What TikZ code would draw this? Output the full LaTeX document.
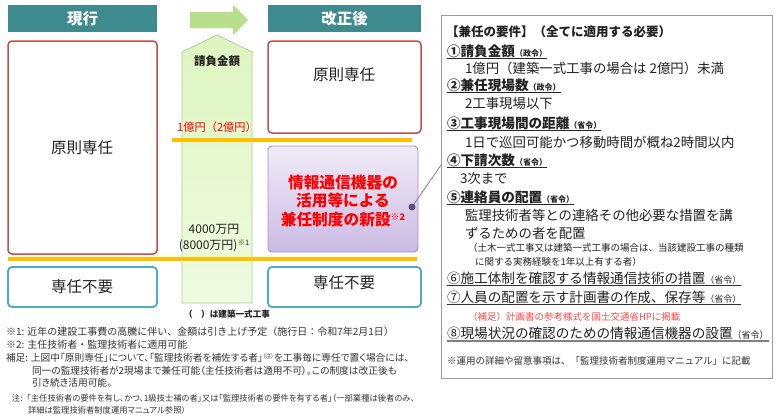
\documentclass[tikz,border=0pt]{standalone}
\usepackage{fontspec}
\setmainfont{Noto Sans CJK JP}
\newfontfamily\jpp{Noto Sans CJK JP}[RawFeature=+palt]
\newcommand{\fs}[2]{\fontsize{#1}{#2}\selectfont}
\definecolor{tealh}{HTML}{3D8A8F}
\definecolor{redb}{HTML}{C0504D}
\definecolor{blueb}{HTML}{4BACC6}
\definecolor{orng}{HTML}{FFC000}
\definecolor{arrg}{HTML}{B7DE8B}
\definecolor{colt}{HTML}{DDF5C0}
\definecolor{colb}{HTML}{EFFBE0}
\definecolor{colbd}{HTML}{A9D18E}
\definecolor{purt}{HTML}{F0EBF8}
\definecolor{purb}{HTML}{CBBBE4}
\definecolor{purbd}{HTML}{A390CB}
\definecolor{reqbd}{HTML}{9E93B8}
\definecolor{dotc}{HTML}{5B4B80}
\definecolor{connc}{HTML}{8A7AAE}
\definecolor{txt}{HTML}{222222}
\definecolor{notec}{HTML}{333333}
\definecolor{redt}{HTML}{FF0000}
\definecolor{redn}{HTML}{FF4848}
\begin{document}
\begin{tikzpicture}[x=1pt,y=-1pt]
\tikzset{
 every node/.style={inner sep=0pt,outer sep=0pt,text=txt},
 hdr/.style={fill=tealh,text=white,font=\fs{15.5}{18}\bfseries,minimum height=27pt,anchor=north west},
 redbox/.style={draw=redb,line width=1.5pt,rounded corners=4pt,fill=white,anchor=north west},
 bluebox/.style={draw=blueb,line width=1.8pt,rounded corners=4pt,fill=white,anchor=north west},
 bigtxt/.style={font=\fs{15.5}{18}},
 midtxt/.style={font=\fs{12}{14}},
 ln/.style={anchor=base west},
 hd/.style={anchor=base west,font=\fs{13.6}{16}\bfseries},
 hdb/.style={anchor=base west,font=\fs{13.6}{16}},
 bd/.style={anchor=base west,font=\fs{13.4}{16}},
 sm/.style={anchor=base west,font=\fs{9.5}{11}},
 note/.style={anchor=base west,font=\fs{10}{11},text=notec},
 notep/.style={anchor=base west,font=\jpp\fs{9.7}{11},text=notec},
 notesm/.style={anchor=base west,font=\fs{8.3}{9},text=notec},
 ulthin/.style={line width=0.8pt,draw=black!85},
 ulmid/.style={line width=1.4pt,draw=black!80},
 ulthick/.style={line width=2.5pt,draw=black!50},
 orline/.style={draw=orng,line width=4.5pt},
}
\useasboundingbox (0,0) rectangle (778,415);

% headers and arrow
\node[hdr,minimum width=149pt] (hcur) at (8,5) {現行};
\node[hdr,minimum width=153pt] (hnew) at (268,5) {改正後};
\fill[arrg] (190,12) -- (233,12) -- (233,5) -- (248,20) -- (233,35) -- (233,28) -- (190,28) -- cycle;

% central column
\shade[top color=colt,bottom color=colb] (182,303) -- (182,52) -- (217,35) -- (252,52) -- (252,303) -- cycle;
\draw[colbd,line width=0.8pt] (182,303) -- (182,52) -- (217,35) -- (252,52) -- (252,303) -- cycle;
\node[font=\fs{11.5}{14}\bfseries] (ukeoi) at (217,61) {請負金額};

% left column boxes
\node[redbox,minimum width=149pt,minimum height=213pt] (lprin) at (8,41) {};
\node[bigtxt] (lprint) at (82,148) {原則専任};
\node[bluebox,minimum width=149pt,minimum height=40pt] (lfree) at (8,267) {};
\node[bigtxt] (lfreet) at (82,287) {専任不要};

% right column boxes
\node[redbox,minimum width=153pt,minimum height=92pt] (rprin) at (268,41) {};
\node[bigtxt] (rprint) at (344,75) {原則専任};
\node[anchor=north west,draw=purbd,line width=0.9pt,rounded corners=4pt,top color=purt,bottom color=purb,minimum width=150pt,minimum height=106pt] (purp) at (268,146) {};
\node[align=center,font=\fs{15.7}{18.5}\bfseries,text=redt] (purpt) at (343,201) {情報通信機器の\\活用等による\\兼任制度の新設\raisebox{5pt}{\fs{9}{9}※2}};
\node[bluebox,minimum width=153pt,minimum height=40pt] (rfree) at (268,267) {};
\node[bigtxt] (rfreet) at (344,283) {専任不要};

% thresholds
\node[font=\fs{11.2}{13},text=redt] (oku) at (217,127) {1億円（2億円）};
\draw[orline] (172,140) -- (412,140);
\node[midtxt] (man1) at (214,229) {4000万円};
\node[midtxt] (man2) at (214,246) {(8000万円)\raisebox{4pt}{\fs{7.5}{8}※1}};
\draw[orline] (8,259) -- (417,259);
\node[font=\fs{8.6}{10}\bfseries] (paren) at (227,314) {（　）は建築一式工事};

% requirement box
\node[anchor=north west,draw=reqbd,line width=1pt,fill=white,minimum width=331pt,minimum height=363pt] (req) at (441,15) {};
\coordinate (cp) at (441,165);
\node[circle,fill=dotc,minimum size=7pt] (dot) at (412,207) {};
\draw[connc,line width=0.8pt] (dot) -- (cp);

\node[ln,font=\fs{12.5}{15}\bfseries] (r0) at (446,36.5) {【兼任の要件】（全てに適用する必要）};
\node[hd] (r1) at (447,56.5) {①請負金額{\fs{8}{9}（政令）}};
\node[bd] (r1b) at (465,73) {1億円（建築一式工事の場合は 2億円）未満};
\node[hd] (r2) at (447,90) {②兼任現場数{\fs{8}{9}（政令）}};
\node[bd] (r2b) at (465,108) {2工事現場以下};
\node[hd] (r3) at (447,128) {③工事現場間の距離{\fs{8}{9}（省令）}};
\node[bd] (r3b) at (465,147) {1日で巡回可能かつ移動時間が概ね2時間以内};
\node[hd] (r4) at (447,165) {④下請次数{\fs{8}{9}（省令）}};
\node[bd] (r4b) at (460,183) {3次まで};
\node[hd] (r5) at (447,202) {⑤連絡員の配置{\fs{8}{9}（省令）}};
\node[bd] (r5b) at (465,220) {監理技術者等との連絡その他必要な措置を講};
\node[bd] (r5c) at (465,238) {ずるための者を配置};
\node[sm] (r5d) at (468,251.5) {（土木一式工事又は建築一式工事の場合は、当該建設工事の種類};
\node[sm] (r5e) at (475,265.5) {に関する実務経験を1年以上有する者）};
\node[hdb] (r6) at (447,283) {⑥施工体制を確認する情報通信技術の措置{\fs{9}{10}（省令）}};
\node[hdb] (r7) at (447,302) {⑦人員の配置を示す計画書の作成、保存等{\fs{9}{10}（省令）}};
\node[sm,text=redn] (r7b) at (468,320.5) {（補足）計画書の参考様式を国土交通省HPに掲載};
\node[hdb] (r8) at (447,338) {⑧現場状況の確認のための情報通信機器の設置{\fs{9}{10}（省令）}};
\node[sm,text=notec] (r9) at (447,364.5) {※運用の詳細や留意事項は、「監理技術者制度運用マニュアル」に記載};

\foreach \n in {r1,r2,r3,r4,r5}{
  \draw[ulthin] ([yshift=-2pt]\n.base west) -- ([yshift=-2pt]\n.base east);
}
\foreach \n in {r6,r7}{
  \draw[ulmid] ([yshift=-2.5pt]\n.base west) -- ([yshift=-2.5pt]\n.base east);
}
\draw[ulthick] ([yshift=-3pt]r8.base west) -- ([yshift=-3pt]r8.base east);

% notes
\node[note] (n1) at (6,335) {※1: 近年の建設工事費の高騰に伴い、金額は引き上げ予定（施行日：令和7年2月1日）};
\node[note] (n2) at (6,348) {※2: 主任技術者・監理技術者に適用可能};
\node[notep] (n3) at (6,361) {補足: 上図中「原則専任」について、「監理技術者を補佐する者」\raisebox{3pt}{\fs{5.5}{6}（注）}を工事毎に専任で置く場合には、};
\node[notep] (n4) at (32,374) {同一の監理技術者が2現場まで兼任可能（主任技術者は適用不可）。この制度は改正後も};
\node[notep] (n5) at (32,386.5) {引き続き活用可能。};
\node[notesm] (n6) at (12,401.5) {注:「{\jpp 主任技術者の要件を有し、かつ、1級技士補の者」又は「監理技術者の要件を有する者」（一部業種は後者のみ、}};
\node[notesm,font=\jpp\fs{8.3}{9}] (n7) at (28,413.3) {詳細は監理技術者制度運用マニュアル参照）};
\end{tikzpicture}
\end{document}
